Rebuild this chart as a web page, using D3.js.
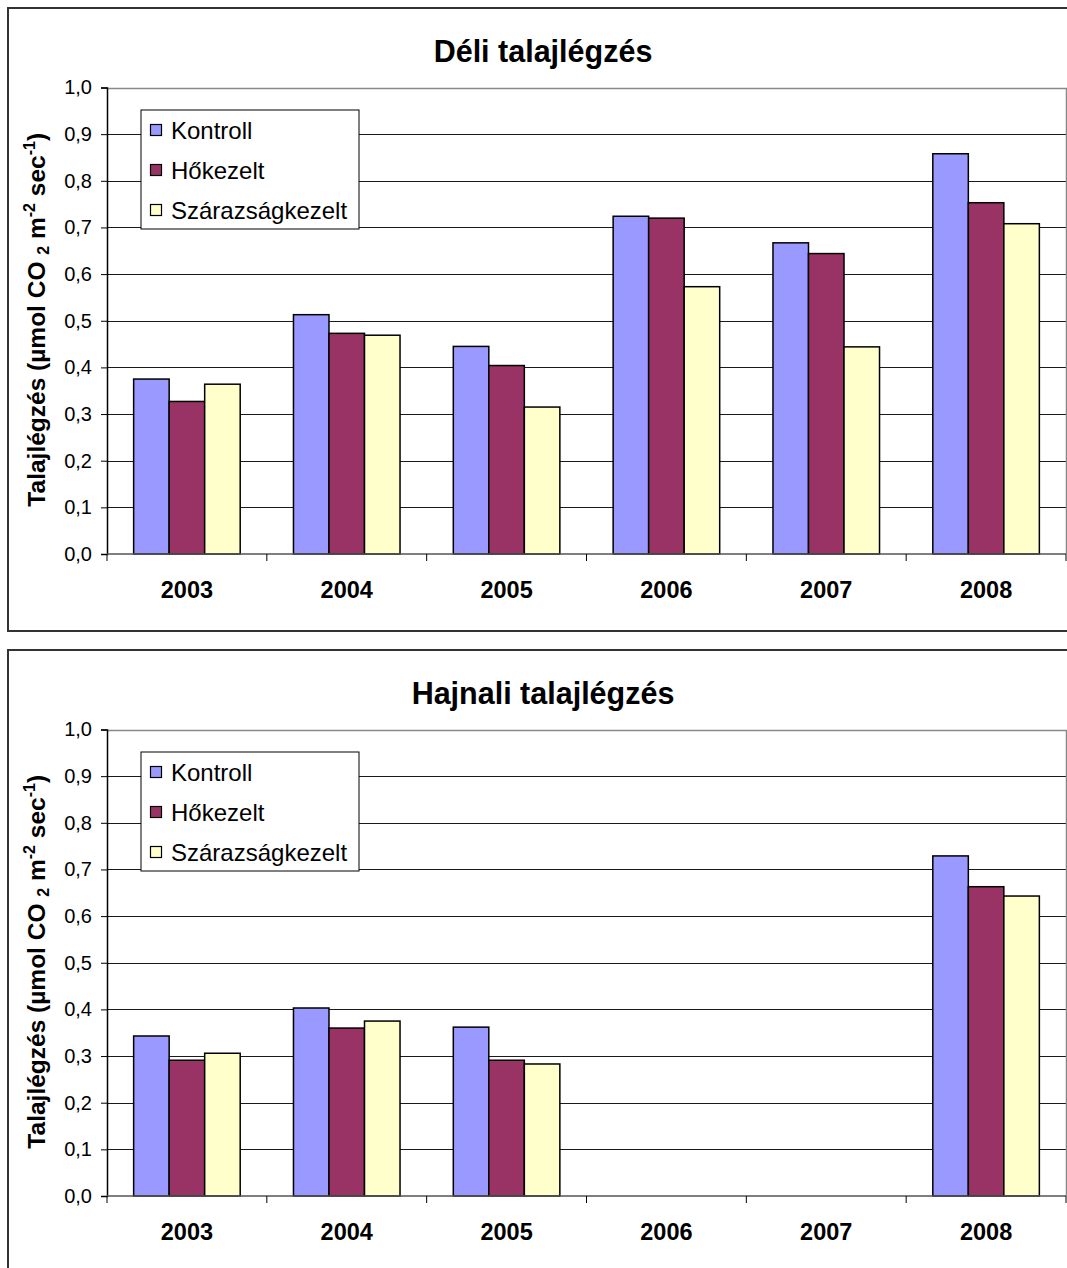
<!DOCTYPE html>
<html>
<head>
<meta charset="utf-8">
<script src="https://cdn.jsdelivr.net/npm/d3@7"></script>
<style>
  html, body { margin: 0; padding: 0; background: #fff; }
  svg { display: block; font-family: "Liberation Sans", Arial, sans-serif; }
</style>
</head>
<body>
<svg id="chart" width="1067" height="1268"></svg>
<script>
// Soil respiration by year and treatment
const years = ["2003", "2004", "2005", "2006", "2007", "2008"];
const seriesNames = ["Kontroll", "Hőkezelt", "Szárazságkezelt"];
const seriesColors = ["#9999FF", "#993366", "#FFFFCC"];

// Midday values (Déli)
const deliKontroll = [0.375, 0.513, 0.445, 0.724, 0.667, 0.858];
const deliHokezelt = [0.327, 0.473, 0.404, 0.720, 0.644, 0.753];
const deliSzaraz   = [0.364, 0.469, 0.315, 0.573, 0.444, 0.708];

// Dawn values (Hajnali); no measurements in 2006 and 2007
const hajnaliKontroll = [0.343, 0.403, 0.362, null, null, 0.729];
const hajnaliHokezelt = [0.291, 0.360, 0.291, null, null, 0.663];
const hajnaliSzaraz   = [0.306, 0.375, 0.283, null, null, 0.643];

const yTicks = [0, 0.1, 0.2, 0.3, 0.4, 0.5, 0.6, 0.7, 0.8, 0.9, 1.0];
const yMax = 1.0;

const huLocale = d3.formatLocale({ decimal: ",", thousands: " ", grouping: [3], currency: ["", ""] });
const fmt = huLocale.format(".1f");

const svg = d3.select("#chart");

function drawChart(top, title, seriesData) {
  const box = { x: 8, y: top, w: 1070, h: 623 };
  const g = svg.append("g");

  // chart frame (open on the right, runs past the page edge)
  g.append("rect")
    .attr("x", box.x).attr("y", box.y)
    .attr("width", box.w).attr("height", box.h)
    .attr("fill", "#fff").attr("stroke", "#333").attr("stroke-width", 2);

  const plot = { left: 107, right: 1066, top: top + 79.5, bottom: top + 546 };

  const x = d3.scaleBand().domain(years)
    .range([plot.left, plot.right])
    .paddingInner(1 / 3).paddingOuter(1 / 6);
  const xs = d3.scaleBand().domain(seriesNames).range([0, x.bandwidth()]);
  const y = d3.scaleLinear().domain([0, yMax]).range([plot.bottom, plot.top]);

  // horizontal gridlines
  g.append("g").selectAll("line").data(yTicks.filter(t => t > 0 && t < yMax)).join("line")
    .attr("x1", plot.left).attr("x2", plot.right)
    .attr("y1", d => Math.round(y(d)) + 0.5).attr("y2", d => Math.round(y(d)) + 0.5)
    .attr("stroke", "#1a1a1a").attr("stroke-width", 1);

  // plot area outline (top and right)
  g.append("path")
    .attr("d", `M${plot.left},${Math.round(plot.top) + 0.5}H${plot.right + 0.5}V${plot.bottom}`)
    .attr("fill", "none").attr("stroke", "#888").attr("stroke-width", 1.5);

  // bars
  const rows = years.map((yr, i) => ({ year: yr, vals: seriesNames.map((s, k) => ({ s, k, v: seriesData[k][i] })) }));
  const groups = g.append("g").selectAll("g").data(rows).join("g")
    .attr("transform", d => `translate(${x(d.year)},0)`);
  groups.selectAll("rect").data(d => d.vals.filter(e => e.v != null)).join("rect")
    .attr("x", d => xs(d.s))
    .attr("y", d => y(d.v))
    .attr("width", xs.bandwidth())
    .attr("height", d => y(0) - y(d.v))
    .attr("fill", d => seriesColors[d.k])
    .attr("stroke", "#000").attr("stroke-width", 1.5);

  // y axis
  const yAxis = d3.axisLeft(y).tickValues(yTicks).tickFormat(fmt).tickSize(6).tickPadding(9);
  const ya = g.append("g").attr("transform", `translate(${plot.left},0)`).call(yAxis);
  ya.select(".domain").attr("stroke", "#000").attr("stroke-width", 1.5);
  ya.selectAll(".tick line").attr("stroke", "#000");
  ya.selectAll(".tick text").attr("font-size", 20).attr("fill", "#000")
    .attr("font-family", "Liberation Sans, Arial, sans-serif");

  // x axis: ticks on category boundaries
  const xa = g.append("g");
  xa.append("line")
    .attr("x1", plot.left).attr("x2", plot.right)
    .attr("y1", plot.bottom).attr("y2", plot.bottom)
    .attr("stroke", "#555").attr("stroke-width", 1.5);
  const step = x.step();
  xa.selectAll("line.tk").data(d3.range(years.length + 1)).join("line")
    .attr("class", "tk")
    .attr("x1", i => plot.left + i * step).attr("x2", i => plot.left + i * step)
    .attr("y1", plot.bottom).attr("y2", plot.bottom + 7)
    .attr("stroke", "#000").attr("stroke-width", 1);
  xa.selectAll("text").data(years).join("text")
    .attr("x", d => x(d) + x.bandwidth() / 2)
    .attr("y", plot.bottom + 44)
    .attr("text-anchor", "middle")
    .attr("font-size", 23.5).attr("font-weight", "bold")
    .text(d => d);

  // title
  g.append("text")
    .attr("x", 543).attr("y", top + 54)
    .attr("text-anchor", "middle")
    .attr("font-size", 30.5).attr("font-weight", "bold")
    .text(title);

  // y axis title with sub/superscripts
  const yt = g.append("text")
    .attr("transform", `translate(45,${(plot.top + plot.bottom) / 2 - 1}) rotate(-90)`)
    .attr("text-anchor", "middle")
    .attr("font-size", 24.5).attr("font-weight", "bold");
  yt.append("tspan").text("Talajlégzés (µmol CO ");
  yt.append("tspan").attr("font-size", 16).attr("dy", 4).text("2");
  yt.append("tspan").attr("dy", -4).text(" m");
  yt.append("tspan").attr("font-size", 16).attr("dy", -10).text("-2");
  yt.append("tspan").attr("dy", 10).text(" sec");
  yt.append("tspan").attr("font-size", 16).attr("dy", -10).text("-1");
  yt.append("tspan").attr("dy", 10).text(")");

  // legend
  const lg = g.append("g").attr("transform", `translate(141,${top + 102})`);
  lg.append("rect").attr("x", 0).attr("y", 0).attr("width", 218).attr("height", 119)
    .attr("fill", "#fff").attr("stroke", "#000").attr("stroke-width", 1);
  seriesNames.forEach((s, k) => {
    lg.append("rect")
      .attr("x", 9.5).attr("y", 14.5 + k * 40)
      .attr("width", 11).attr("height", 11)
      .attr("fill", seriesColors[k]).attr("stroke", "#000").attr("stroke-width", 1.2);
    lg.append("text")
      .attr("x", 30).attr("y", 28.5 + k * 40)
      .attr("font-size", 24)
      .text(s);
  });
}

drawChart(8, "Déli talajlégzés", [deliKontroll, deliHokezelt, deliSzaraz]);
drawChart(650, "Hajnali talajlégzés", [hajnaliKontroll, hajnaliHokezelt, hajnaliSzaraz]);
</script>
</body>
</html>
